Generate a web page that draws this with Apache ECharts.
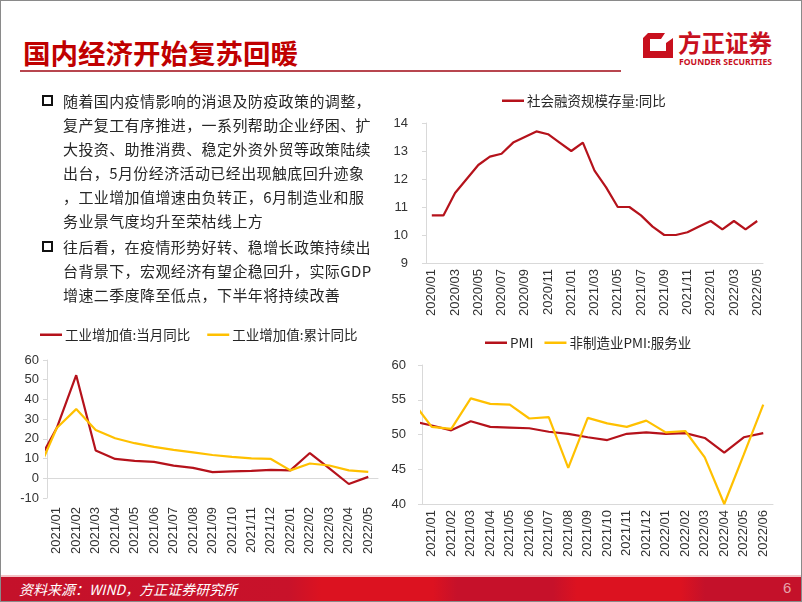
<!DOCTYPE html>
<html><head><meta charset="utf-8">
<script src="https://cdn.jsdelivr.net/npm/echarts@6/dist/echarts.min.js"></script>
<style>
html,body{margin:0;padding:0;background:#fff;}
#page{position:relative;width:802px;height:602px;overflow:hidden;background:#fff;font-family:"Noto Sans CJK SC",sans-serif;}
#frame{position:absolute;left:0;top:0;width:800px;height:600px;border:1px solid #8a8a8a;pointer-events:none;z-index:6}
#chart{position:absolute;left:0;top:0;width:802px;height:602px;z-index:2}
.abs{position:absolute;white-space:nowrap;}
#title{left:23px;top:36px;font-size:27.5px;line-height:32px;font-weight:700;color:#C00000;}
#rule{left:20px;top:70px;width:601px;height:2px;background:#b8464f}
.body{left:63px;font-size:15px;line-height:24px;letter-spacing:0.4px;color:#262626;z-index:3}
.sq{width:7px;height:7px;border:2.5px solid #111;}
#footer{left:1px;top:577px;width:800px;height:25px;background:linear-gradient(90deg,#c4112a 0%,#c8122a 36%,#dc1220 40%,#dc1220 54%,#c6112a 57%,#c6112a 69%,#dc1220 72%,#dc1220 85%,#c4112a 88%,#c4112a 100%);z-index:4}
#footline{left:1px;top:575px;width:800px;height:2px;background:#f4c2c6;z-index:4}
#src{left:19px;top:579px;font-size:14px;line-height:20px;font-style:italic;color:#fff;z-index:5}
#pg{left:783px;top:578px;font-size:15px;line-height:20px;color:#e6a3aa;font-family:"Liberation Sans",Arial,sans-serif;z-index:5}
#logotxt{left:678px;top:28px;font-size:23.5px;line-height:28px;font-weight:700;color:#C8101E;}
#logoen{left:679px;top:56px;font-size:8.5px;line-height:11px;font-weight:700;color:#C8101E;font-family:"Noto Sans","Liberation Sans",sans-serif;transform-origin:0 0;}
</style></head>
<body>
<div id="page">
  <div id="chart"></div>
  <div class="abs" id="title">国内经济开始复苏回暖</div>
  <div class="abs" id="rule"></div>
  <svg class="abs" style="left:643px;top:33px" width="30" height="25" viewBox="0 0 30 25">
    <path d="M5,0 L22,0 L18,6 L7,6 L7,18 L23,18 L23,10 L30,5 L30,25 L0,25 L0,5 Z" fill="#C8101E"/>
  </svg>
  <div class="abs" id="logotxt">方正证券</div>
  <div class="abs" id="logoen">FOUNDER SECURITIES</div>

  <div class="abs sq" style="left:42px;top:95px"></div>
  <div class="abs body" style="top:89px">
    <div>随着国内疫情影响的消退及防疫政策的调整，</div>
    <div>复产复工有序推进，一系列帮助企业纾困、扩</div>
    <div>大投资、助推消费、稳定外资外贸等政策陆续</div>
    <div>出台，5月份经济活动已经出现触底回升迹象</div>
    <div>，工业增加值增速由负转正，6月制造业和服</div>
    <div>务业景气度均升至荣枯线上方</div>
  </div>
  <div class="abs sq" style="left:42px;top:241px"></div>
  <div class="abs body" style="top:235px">
    <div>往后看，在疫情形势好转、稳增长政策持续出</div>
    <div>台背景下，宏观经济有望企稳回升，实际GDP</div>
    <div>增速二季度降至低点，下半年将持续改善</div>
  </div>

  <div class="abs" id="footline"></div>
  <div class="abs" id="footer"></div>
  <div class="abs" id="src">资料来源：WIND，方正证券研究所</div>
  <div class="abs" id="pg">6</div>
  <div id="frame"></div>
</div>
<script>
// ---------- data ----------
const tsfCategories = ['2020/01','2020/02','2020/03','2020/04','2020/05','2020/06','2020/07','2020/08','2020/09','2020/10','2020/11','2020/12',
  '2021/01','2021/02','2021/03','2021/04','2021/05','2021/06','2021/07','2021/08','2021/09','2021/10','2021/11','2021/12',
  '2022/01','2022/02','2022/03','2022/04','2022/05'];
const tsfYoY = [10.7,10.7,11.5,12.0,12.5,12.8,12.9,13.3,13.5,13.7,13.6,13.3,13.0,13.3,12.3,11.7,11.0,11.0,10.7,10.3,10.0,10.0,10.1,10.3,10.5,10.2,10.5,10.2,10.5];

// first entry (2020/12) lies just left of the visible axis and is clipped
const iaCategories = ['2020/12','2021/01','2021/02','2021/03','2021/04','2021/05','2021/06','2021/07','2021/08','2021/09','2021/10','2021/11','2021/12',
  '2022/01','2022/02','2022/03','2022/04','2022/05'];
const iaMonthly    = [7.3,25.5,52.3,14.1,9.8,8.8,8.3,6.4,5.3,3.1,3.5,3.8,4.3,4.0,12.8,5.0,-2.9,0.7];
const iaCumulative = [2.8,25.5,35.1,24.5,20.3,17.8,15.9,14.4,13.1,11.8,10.9,10.1,9.8,4.0,7.5,6.5,4.0,3.3];

const pmiCategories = ['2020/12','2021/01','2021/02','2021/03','2021/04','2021/05','2021/06','2021/07','2021/08','2021/09','2021/10','2021/11','2021/12',
  '2022/01','2022/02','2022/03','2022/04','2022/05','2022/06'];
const pmiMfg      = [51.9,51.3,50.6,51.9,51.1,51.0,50.9,50.4,50.1,49.6,49.2,50.1,50.3,50.1,50.2,49.5,47.4,49.6,50.2];
const pmiServices = [54.8,51.1,50.8,55.2,54.4,54.3,52.3,52.5,45.2,52.4,51.6,51.1,52.0,50.3,50.5,46.7,40.0,47.1,54.3];

const tsfTicks = {min:9, max:14, interval:1};
const iaTicks  = {min:-10, max:60, interval:10};
const pmiTicks = {min:40, max:60, interval:5};

// ---------- styles ----------
const AX = '#d9d9d9', LBL = '#333333', RED = '#B5121B', YEL = '#FFC000';
const NUM = '"Liberation Sans", Arial, sans-serif';
const CJK = '"Noto Sans CJK SC", sans-serif';

const pairs = arr => arr.map((v, i) => [i, v]);
const xLabel = (margin) => ({interval:0, rotate:90, margin, fontSize:13, color:LBL, fontFamily:NUM});
const yAxisBase = (t, margin, grid) => ({
  type:'value', gridIndex:grid, min:t.min, max:t.max, interval:t.interval,
  axisLine:{show:true, onZero:false, lineStyle:{color:AX, width:1}},
  axisTick:{show:true, length:4, lineStyle:{color:AX}},
  splitLine:{show:false},
  axisLabel:{margin, fontSize:13, color:LBL, fontFamily:NUM}
});
const lineSeries = (name, color, xi, yi, data) => ({
  type:'line', name, xAxisIndex:xi, yAxisIndex:yi, data, symbol:'none', smooth:false,
  lineStyle:{width:2.2, color}, itemStyle:{color}, emphasis:{disabled:true}
});
const legendBase = {padding:0, icon:'rect', itemWidth:22, itemHeight:2.5, itemGap:17,
  textStyle:{fontSize:13.5, fontFamily:CJK, color:'#262626', padding:[0,0,0,-2]}};

const chart = echarts.init(document.getElementById('chart'), null, {renderer:'canvas'});
chart.setOption({
  animation:false,
  textStyle:{fontFamily:NUM},
  grid:[
    {left:426, top:123, width:337, height:140, outerBoundsMode:'none'},
    {left:47,  top:360, width:331, height:138, outerBoundsMode:'none'},
    {left:422, top:365, width:351, height:139, outerBoundsMode:'none'}
  ],
  legend:[
    Object.assign({}, legendBase, {data:['社会融资规模存量:同比'], left:502, top:94}),
    Object.assign({}, legendBase, {data:['工业增加值:当月同比','工业增加值:累计同比'], left:40, top:328}),
    Object.assign({}, legendBase, {data:['PMI','非制造业PMI:服务业'], left:485, top:336, itemGap:11})
  ],
  xAxis:[
    {type:'category', gridIndex:0, position:'bottom', data:tsfCategories, boundaryGap:true,
     axisLine:{onZero:false, lineStyle:{color:AX}},
     axisTick:{interval:1, length:4, lineStyle:{color:AX}},
     axisLabel:Object.assign(xLabel(6), {interval:1})},
    {type:'category', gridIndex:1, position:'bottom', data:iaCategories.slice(1), boundaryGap:true,
     axisLine:{show:false, onZero:false}, axisTick:{show:false}, axisLabel:xLabel(9)},
    {type:'category', gridIndex:1, position:'bottom', data:iaCategories.slice(1), boundaryGap:true,
     axisLine:{show:true, onZero:true, lineStyle:{color:AX}},
     axisTick:{interval:0, length:4, lineStyle:{color:AX}}, axisLabel:{show:false}},
    {type:'value', gridIndex:1, position:'top', show:false, min:0.5, max:iaCategories.length - 0.5},
    {type:'category', gridIndex:2, position:'bottom', data:pmiCategories.slice(1), boundaryGap:true,
     axisLine:{onZero:false, lineStyle:{color:AX}},
     axisTick:{interval:0, length:4, lineStyle:{color:AX}}, axisLabel:xLabel(6)},
    {type:'value', gridIndex:2, position:'top', show:false, min:0.5, max:pmiCategories.length - 0.5}
  ],
  yAxis:[
    yAxisBase(tsfTicks, 18, 0),
    yAxisBase(iaTicks, 8, 1),
    yAxisBase(pmiTicks, 16, 2)
  ],
  series:[
    lineSeries('社会融资规模存量:同比', RED, 0, 0, tsfYoY),
    lineSeries('工业增加值:当月同比', RED, 3, 1, pairs(iaMonthly)),
    lineSeries('工业增加值:累计同比', YEL, 3, 1, pairs(iaCumulative)),
    lineSeries('PMI', RED, 5, 2, pairs(pmiMfg)),
    lineSeries('非制造业PMI:服务业', YEL, 5, 2, pairs(pmiServices))
  ]
});

// fit the English logo line to its width
const en = document.getElementById('logoen');
const w = en.getBoundingClientRect().width;
if (w > 0) en.style.transform = 'scaleX(' + (93 / w) + ')';
</script>
</body></html>
